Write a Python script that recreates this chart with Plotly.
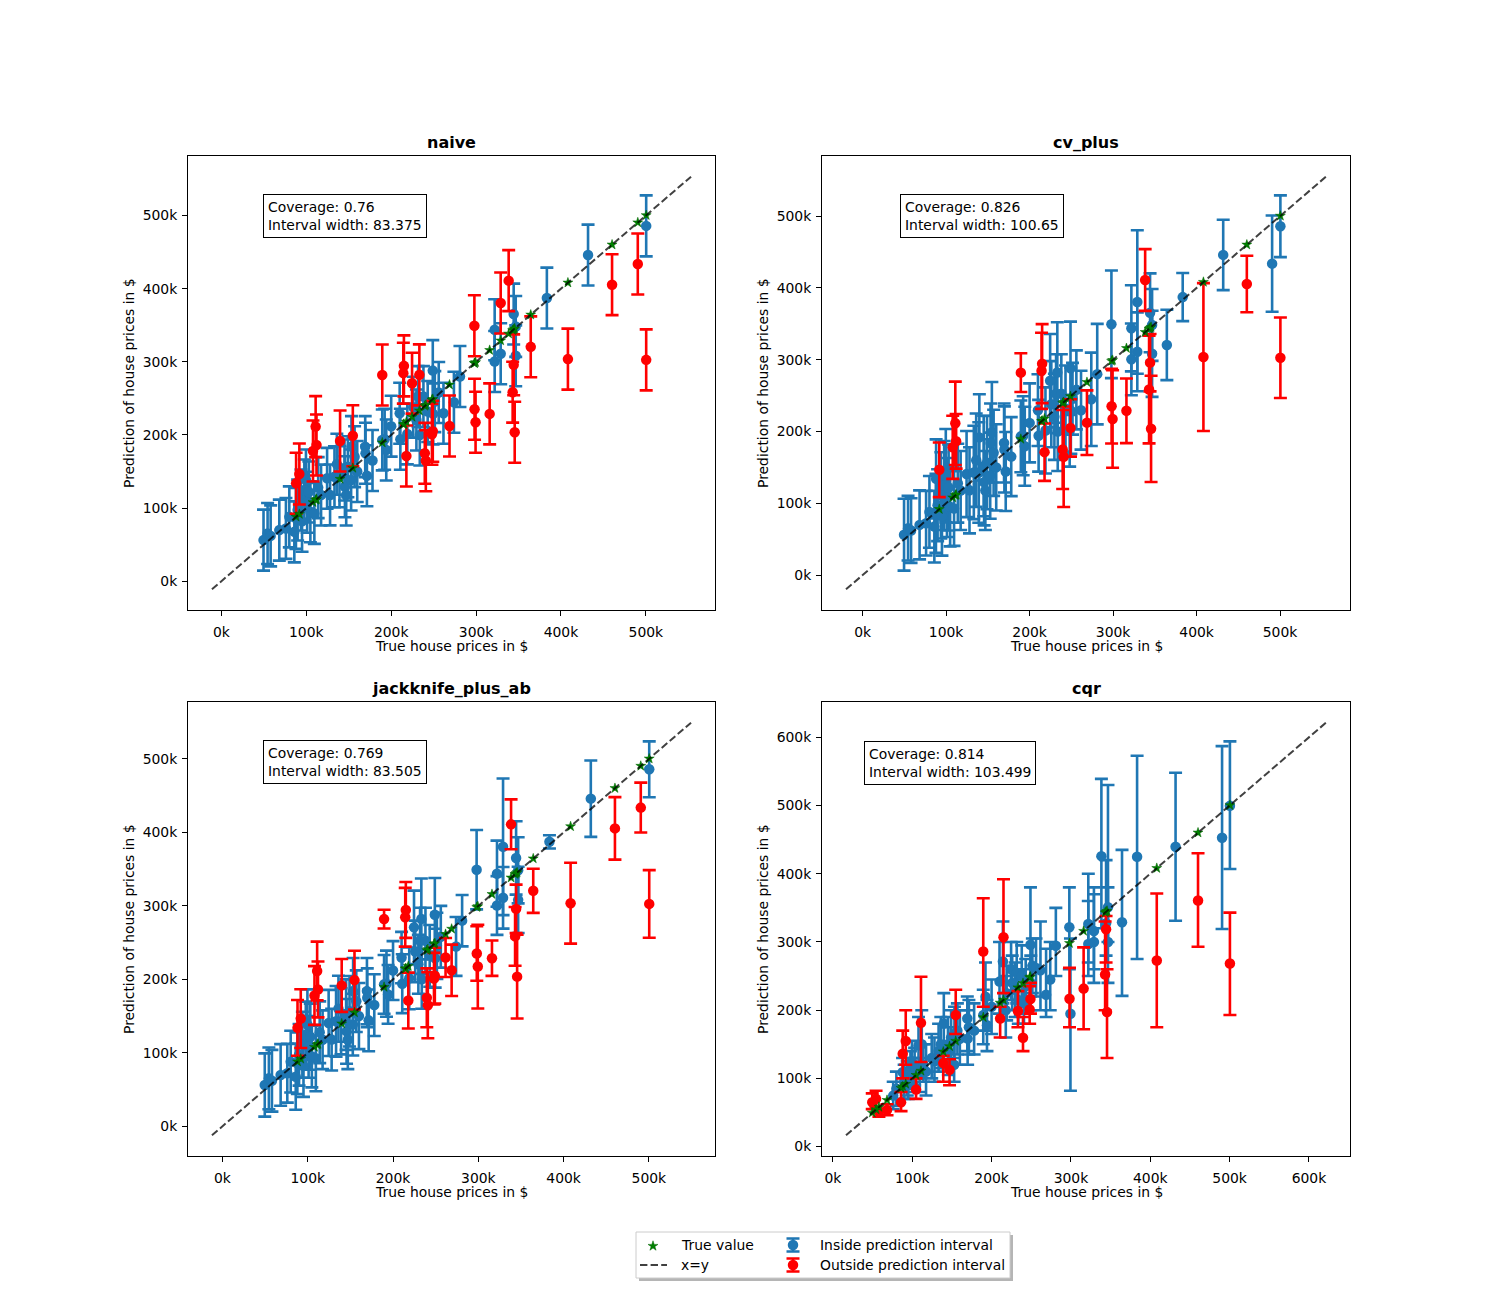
import plotly.graph_objects as go
import numpy as np

# ---------------- data (k$) ----------------
true_price = [49.6, 54.4, 58.0, 68.2, 76.0, 80.0, 85.9, 87.8, 88.0, 89.8,
              91.8, 93.7, 95.0, 97.7, 99.6, 101.0, 103.0, 104.8, 107.9, 109.5,
              111.0, 112.0, 114.0, 117.4, 124.5, 128.0, 133.2, 136.0, 139.1, 139.8,
              145.0, 145.5, 147.0, 149.0, 152.8, 153.2, 154.8, 156.9, 160.0, 169.4,
              169.8, 171.4, 178.0, 189.5, 189.5, 192.3, 194.2, 200.0, 210.0, 210.8,
              214.3, 215.0, 217.9, 219.0, 224.6, 226.0, 229.7, 231.7, 233.2, 233.7,
              238.0, 239.6, 240.8, 243.0, 248.0, 249.0, 249.0, 249.4, 251.4, 256.0,
              261.6, 268.7, 273.9, 281.0, 298.0, 298.2, 299.4, 316.0, 321.9, 321.9,
              329.0, 329.0, 338.4, 343.1, 344.3, 344.3, 345.5, 346.7, 346.7, 364.4,
              383.4, 408.2, 431.9, 460.2, 490.5, 500.4, 500.4]
pred_price = [56.2, 65.3, 62.0, 69.9, 72.2, 88.0, 67.5, 85.9, 134.0, 97.3,
              146.6, 111.0, 82.0, 124.7, 138.4, 108.0, 122.0, 95.0, 178.0, 92.7,
              211.4, 186.3, 128.0, 117.8, 140.7, 118.0, 142.9, 160.0, 142.9, 191.8,
              152.0, 129.2, 117.8, 156.6, 138.4, 184.0, 199.0, 170.3, 150.0, 184.0,
              175.0, 144.2, 165.0, 193.2, 282.0, 194.1, 179.5, 212.0, 229.7, 194.1,
              284.5, 294.5, 171.2, 201.4, 270.8, 238.0, 220.5, 252.5, 282.2, 200.0,
              252.5, 174.9, 164.8, 232.0, 201.0, 205.0, 288.0, 228.8, 245.6, 258.0,
              229.7, 212.3, 244.8, 279.9, 349.3, 235.2, 217.4, 228.8, 343.8, 300.5,
              380.4, 311.0, 411.0, 258.5, 365.3, 295.9, 203.7, 348.4, 308.2, 320.5,
              387.2, 303.7, 446.0, 405.5, 433.8, 485.9, 302.7]
naive_width = 83.375
cv_plus_half = [50, 45, 45, 48, 45, 50, 50, 55, 55, 50,
                38, 60, 55, 62, 65, 55, 60, 55, 44, 52,
                58, 38, 55, 55, 60, 60, 65, 65, 70, 60,
                70, 60, 55, 65, 60, 55, 70, 60, 60, 55,
                60, 55, 55, 50, 27, 55, 55, 55, 50, 50,
                53, 55, 40, 60, 65, 60, 60, 55, 70, 55,
                55, 55, 70, 60, 50, 40, 65, 60, 50, 55,
                55, 45, 65, 70, 75, 52, 68, 45, 60, 50,
                100, 55, 43, 75, 55, 40, 74, 50, 60, 49,
                33.5, 103, 49, 39.4, 67, 43, 56]
jk_ab_half = [43, 42, 42, 42, 40, 42, 45, 42, 38, 42,
              40, 45, 42, 45, 48, 42, 45, 42, 40, 45,
              40, 38, 42, 40, 45, 42, 48, 45, 45, 36,
              48, 44, 40, 48, 42, 45, 40, 42, 45, 45,
              40, 42, 42, 40, 12.7, 45, 40, 40, 35, 40,
              40, 38, 38, 42, 50, 42, 40, 45, 55, 40,
              45, 40, 45, 42, 35, 38, 50, 40, 45, 42,
              26.5, 35, 40, 35, 54, 37, 57, 24, 45, 40,
              93, 42, 34, 40, 50, 33, 57, 45, 45, 30,
              9, 55, 52, 42.5, 34, 38, 46]
cqr_pred = [65.0, 70.0, 51.6, 53.6, 74.8, 85.0, 64.9, 109.1, 136.1, 95.0,
            154.9, 100.0, 90.0, 115.0, 125.0, 105.0, 118.0, 83.6, 148.5, 105.0,
            181.4, 150.0, 120.0, 110.2, 130.0, 125.0, 140.0, 150.0, 122.4, 180.4,
            150.0, 140.0, 112.5, 160.0, 120.0, 165.0, 192.8, 170.0, 158.0, 187.8,
            158.3, 175.0, 170.0, 192.8, 286.1, 219.8, 178.0, 205.0, 241.9, 187.8,
            271.4, 306.8, 200.0, 225.0, 260.0, 240.0, 230.0, 255.0, 198.7, 215.0,
            250.0, 159.7, 210.0, 235.0, 201.0, 216.4, 296.0, 240.0, 265.0, 262.0,
            258.6, 222.7, 244.8, 294.5, 321.5, 216.8, 194.7, 231.6, 326.4, 296.9,
            316.1, 300.0, 425.8, 252.2, 327.4, 318.6, 197.2, 351.0, 300.0, 328.9,
            424.8, 272.9, 439.5, 360.9, 452.8, 499.5, 268.4]
cqr_low = [55, 58, 44, 46, 55, 60, 52, 80, 100, 70,
           120, 75, 70, 85, 92, 80, 90, 70, 100, 80,
           124, 105, 95, 75, 100, 95, 110, 115, 95, 125,
           115, 105, 90, 120, 95, 130, 165, 135, 120, 140,
           120, 135, 135, 150, 205, 170, 140, 165, 195, 160,
           210, 225, 160, 185, 215, 200, 190, 210, 175, 180,
           205, 140, 180, 195, 180, 195, 220, 200, 225, 220,
           200, 190, 200, 250, 260, 175, 82, 172, 270, 250,
           260, 240, 320, 200, 280, 270, 130, 300, 240, 221,
           275, 175, 331, 293, 319, 407, 193]
cqr_high = [78, 82, 55, 62, 95, 110, 80, 130, 170, 120,
            200, 125, 115, 140, 155, 130, 145, 100, 190, 130,
            249, 200, 150, 150, 165, 160, 180, 190, 133, 225,
            190, 175, 128, 200, 160, 205, 230, 210, 200, 220,
            200, 215, 210, 230, 364, 270, 215, 245, 300, 205,
            330, 392, 250, 265, 300, 280, 270, 300, 228, 255,
            295, 190, 260, 275, 235, 240, 380, 280, 305, 305,
            330, 290, 300, 350, 380, 262, 305, 292, 400, 360,
            380, 370, 539, 330, 420, 338, 260, 530, 380, 435,
            573, 371, 548, 430, 587, 594, 343]

methods = ["naive", "cv_plus", "jackknife_plus_ab", "cqr"]
coverage_txt = ["0.76", "0.826", "0.769", "0.814"]
width_txt = ["83.375", "100.65", "83.505", "103.499"]

y_true = np.array(true_price)
y_pred = np.array(pred_price)
intervals = {
    "naive": (y_pred, y_pred - naive_width / 2, y_pred + naive_width / 2),
    "cv_plus": (y_pred, y_pred - np.array(cv_plus_half), y_pred + np.array(cv_plus_half)),
    "jackknife_plus_ab": (y_pred, y_pred - np.array(jk_ab_half), y_pred + np.array(jk_ab_half)),
    "cqr": (np.array(cqr_pred), np.array(cqr_low), np.array(cqr_high)),
}

W, H = 1500, 1300
FONT = "DejaVu Sans"
FS = 13.9
BLUE = "#1f77b4"
LINE_STYLE = dict(color="rgba(0,0,0,0.75)", width=2, dash="7.4px,3.2px")
STAR = dict(symbol="star", color="green", size=7.5, line=dict(color="darkgreen", width=0.5))

# panel pixel boxes (left, right, top, bottom)
boxes = [(188, 715, 156, 610), (822, 1350, 156, 610),
         (188, 715, 702, 1156), (822, 1350, 702, 1156)]
text_pos = [(263, 194), (900, 194), (263, 740), (864, 741)]

fig = go.Figure()
layout = dict(width=W, height=H, margin=dict(l=0, r=0, t=0, b=0),
              paper_bgcolor="white", plot_bgcolor="rgba(0,0,0,0)",
              showlegend=False, font=dict(family=FONT, size=FS, color="black"))
annotations = []
shapes = []

for i, m in enumerate(methods):
    k = i + 1
    xa = "x" if k == 1 else f"x{k}"
    ya = "y" if k == 1 else f"y{k}"
    pred, low, high = intervals[m]
    inside = (y_true >= low) & (y_true <= high)

    # matplotlib-like autoscale for x=y line
    x0, x1 = y_true.min(), y_true.max()
    dx = x1 - x0
    y0, y1 = min(low.min(), y_true.min()), max(high.max(), y_true.max())
    dy = y1 - y0
    lims = [min(x0 - 0.05 * dx, y0 - 0.05 * dy), max(x1 + 0.05 * dx, y1 + 0.05 * dy)]
    span = lims[1] - lims[0]
    rng = [lims[0] - 0.05 * span, lims[1] + 0.05 * span]

    for mask, col in ((inside, BLUE), (~inside, "red")):
        fig.add_trace(go.Scatter(
            x=y_true[mask], y=pred[mask], mode="markers", xaxis=xa, yaxis=ya,
            marker=dict(color=col, size=10.5),
            error_y=dict(type="data", symmetric=False,
                         array=(high - pred)[mask], arrayminus=(pred - low)[mask],
                         color=col, thickness=2.6, width=6.5)))
    fig.add_trace(go.Scatter(
        x=y_true[~inside], y=y_true[~inside], mode="markers", xaxis=xa, yaxis=ya,
        marker=STAR))
    fig.add_trace(go.Scatter(
        x=lims, y=lims, mode="lines", xaxis=xa, yaxis=ya, line=LINE_STYLE))

    l, r, t, b = boxes[i]
    axcommon = dict(range=rng, showline=True, linecolor="black", linewidth=1,
                    mirror=True, ticks="outside", ticklen=5, tickwidth=1,
                    tickcolor="black", dtick=100, tick0=0, ticksuffix="k",
                    showgrid=False, zeroline=False,
                    tickfont=dict(family=FONT, size=FS, color="black"))
    layout["xaxis" if k == 1 else f"xaxis{k}"] = dict(
        domain=[l / W, r / W], anchor=ya, ticklabelstandoff=4, **axcommon)
    layout["yaxis" if k == 1 else f"yaxis{k}"] = dict(
        domain=[1 - b / H, 1 - t / H], anchor=xa, ticklabelstandoff=2, **axcommon)

    cx = (l + r) / 2
    annotations.append(dict(text=f"<b>{m}</b>", x=cx / W, y=1 - (t - 14) / H,
                            xref="paper", yref="paper", showarrow=False,
                            xanchor="center", yanchor="middle",
                            font=dict(family=FONT, size=16, color="black")))
    annotations.append(dict(text="True house prices in $", x=cx / W, y=1 - (b + 36) / H,
                            xref="paper", yref="paper", showarrow=False,
                            xanchor="center", yanchor="middle",
                            font=dict(family=FONT, size=FS, color="black")))
    annotations.append(dict(text="Prediction of house prices in $", x=(l - 59) / W,
                            y=1 - (t + b) / 2 / H, xref="paper", yref="paper",
                            showarrow=False, textangle=-90,
                            xanchor="center", yanchor="middle",
                            font=dict(family=FONT, size=FS, color="black")))
    tx, ty = text_pos[i]
    annotations.append(dict(text=f"Coverage: {coverage_txt[i]}<br>Interval width: {width_txt[i]}",
                            x=tx / W, y=1 - ty / H, xref="paper", yref="paper",
                            showarrow=False, xanchor="left", yanchor="top", align="left",
                            bordercolor="black", borderwidth=1, borderpad=4,
                            bgcolor="white",
                            font=dict(family=FONT, size=FS, color="black")))

# ---------------- legend (drawn manually) ----------------
LX0, LX1, LY0, LY1 = 636, 1010, 1232, 1278
shapes.append(dict(type="rect", xref="paper", yref="paper", layer="below",
                   x0=(LX0 + 3) / W, x1=(LX1 + 3) / W, y0=1 - (LY1 + 3) / H, y1=1 - (LY0 + 3) / H,
                   fillcolor="rgba(120,120,120,0.55)", line=dict(width=0)))
shapes.append(dict(type="rect", xref="paper", yref="paper", layer="below",
                   x0=LX0 / W, x1=LX1 / W, y0=1 - LY1 / H, y1=1 - LY0 / H,
                   fillcolor="white", line=dict(color="#cccccc", width=1)))
layout["xaxis5"] = dict(domain=[LX0 / W, LX1 / W], range=[LX0, LX1], visible=False,
                        anchor="y5", fixedrange=True)
layout["yaxis5"] = dict(domain=[1 - LY1 / H, 1 - LY0 / H], range=[LY1, LY0], visible=False,
                        anchor="x5", fixedrange=True)
fig.add_trace(go.Scatter(x=[653], y=[1246], mode="markers", xaxis="x5", yaxis="y5",
                         marker=STAR))
fig.add_trace(go.Scatter(x=[640, 667], y=[1265, 1265], mode="lines", xaxis="x5", yaxis="y5",
                         line=LINE_STYLE))
for yy, col in ((1245, BLUE), (1265, "red")):
    fig.add_trace(go.Scatter(x=[793], y=[yy], mode="markers", xaxis="x5", yaxis="y5",
                             marker=dict(color=col, size=10.5),
                             error_y=dict(type="data", array=[6.5], color=col,
                                          thickness=2.6, width=6.5)))
for txt, xx, yy in (("True value", 679, 1245), ("x=y", 679, 1265),
                    ("Inside prediction interval", 818, 1245),
                    ("Outside prediction interval", 818, 1265)):
    annotations.append(dict(text=txt, x=xx / W, y=1 - yy / H, xref="paper", yref="paper",
                            showarrow=False, xanchor="left", yanchor="middle",
                            font=dict(family=FONT, size=FS, color="black")))

layout["annotations"] = annotations
layout["shapes"] = shapes
fig.update_layout(**layout)
fig.write_html("out.html")
